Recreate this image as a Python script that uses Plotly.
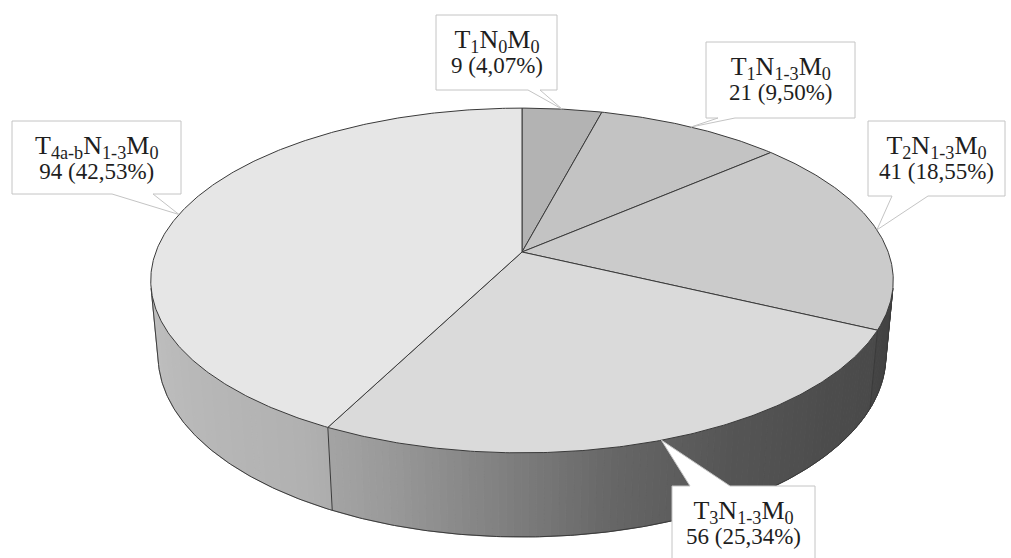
import numpy as np
import plotly.graph_objects as go

# Tumour stage groups, clockwise from 12 o'clock
stage_labels = [
    "T<sub>1</sub>N<sub>0</sub>M<sub>0</sub>",
    "T<sub>1</sub>N<sub>1-3</sub>M<sub>0</sub>",
    "T<sub>2</sub>N<sub>1-3</sub>M<sub>0</sub>",
    "T<sub>3</sub>N<sub>1-3</sub>M<sub>0</sub>",
    "T<sub>4a-b</sub>N<sub>1-3</sub>M<sub>0</sub>",
]
patient_counts = [9, 21, 41, 56, 94]

# grey level of each slice's top face
top_grey = [179, 195, 203, 218, 230]

# callout boxes (x0, y0, x1, y1) in page pixels, edge carrying the pointer, pointer base span
callout_boxes = [(436, 15, 557, 90), (706, 42, 855, 118), (868, 121, 1005, 196),
                 (672, 486, 815, 568), (12, 121, 181, 194)]
pointer_edge = ["bottom", "bottom", "bottom", "top", "bottom"]
pointer_base = [(528, 540), (718, 735), (892, 928), (690, 730), (112, 153)]

W, H = 1011, 558
LABEL_FONT = "Liberation Serif, Times New Roman, DejaVu Serif, serif"

# perspective camera looking down on a unit-radius disc
CX, CY = 522.0, 252.0
FOCAL = 1970.0
DIST = 5.38
TILT = np.radians(27.25)
THICK = 0.233

# side-wall lighting ramp (angle in degrees -> brightness factor)
shade_ang = [90, 110, 132, 151, 168, 183, 199, 211, 250, 270]
shade_fac = [0.32, 0.33, 0.35, 0.39, 0.47, 0.59, 0.71, 0.77, 0.82, 0.87]


def project(theta_deg, level):
    t = np.radians(np.asarray(theta_deg, dtype=float))
    lv = np.asarray(level, dtype=float)
    X = np.sin(t)
    Z = -np.cos(t)
    up = lv * np.cos(TILT) - Z * np.sin(TILT)
    depth = DIST - (lv * np.sin(TILT) + Z * np.cos(TILT))
    return CX + FOCAL * X / depth, CY - FOCAL * up / depth


def grey(v):
    v = int(round(max(0, min(255, v))))
    return f"rgb({v},{v},{v})"


total = sum(patient_counts)
bounds = np.concatenate([[0.0], 360.0 * np.cumsum(patient_counts) / total])

fig = go.Figure()

# visible part of the cylinder wall
vis_lim = np.degrees(np.arccos(-1.0 / (DIST * np.cos(TILT))))
vis0, vis1 = vis_lim, 360.0 - vis_lim

for i in range(len(patient_counts)):
    a0, a1 = max(bounds[i], vis0), min(bounds[i + 1], vis1)
    if a1 <= a0:
        continue
    n = max(1, int(np.ceil(a1 - a0)))
    steps = np.linspace(a0, a1, n + 1)
    for s0, s1 in zip(steps[:-1], steps[1:]):
        arc = np.linspace(s0, s1, 4)
        tx, ty = project(arc, 0.0)
        bx, by = project(arc[::-1], -THICK)
        col = grey(top_grey[i] * np.interp(0.5 * (s0 + s1), shade_ang, shade_fac))
        fig.add_trace(go.Scatter(
            x=np.concatenate([tx, bx, tx[:1]]), y=np.concatenate([ty, by, ty[:1]]),
            mode="lines", fill="toself", fillcolor=col,
            line=dict(color=col, width=1), hoverinfo="skip", showlegend=False))

# wall outlines: bottom rim and vertical seams
edge_col = "#3a3a3a"
rim = np.linspace(vis0, vis1, 300)
rx, ry = project(rim, -THICK)
fig.add_trace(go.Scatter(x=rx, y=ry, mode="lines", line=dict(color=edge_col, width=1),
                         hoverinfo="skip", showlegend=False))
seams = [vis0, vis1] + [b for b in bounds[1:-1] if vis0 < b < vis1]
for a in seams:
    sx, sy = project([a, a], [0.0, -THICK])
    fig.add_trace(go.Scatter(x=sx, y=sy, mode="lines", line=dict(color=edge_col, width=1),
                             hoverinfo="skip", showlegend=False))

# top faces
for i in range(len(patient_counts)):
    arc = np.linspace(bounds[i], bounds[i + 1], max(8, int(bounds[i + 1] - bounds[i]) * 2))
    ax, ay = project(arc, 0.0)
    xs = np.concatenate([[CX], ax, [CX]])
    ys = np.concatenate([[CY], ay, [CY]])
    fig.add_trace(go.Scatter(
        x=xs, y=ys, mode="lines", fill="toself", fillcolor=grey(top_grey[i]),
        line=dict(color=edge_col, width=1), hoverinfo="skip", showlegend=False))

# callouts
shapes = []
annotations = []
for i, cnt in enumerate(patient_counts):
    mid = 0.5 * (bounds[i] + bounds[i + 1])
    tipx, tipy = project(mid, 0.0)
    x0, y0, x1, y1 = callout_boxes[i]
    b0, b1 = pointer_base[i]
    if pointer_edge[i] == "bottom":
        pts = [(x0, y0), (x1, y0), (x1, y1), (b1, y1), (tipx, tipy), (b0, y1), (x0, y1)]
    else:
        pts = [(x0, y0), (b0, y0), (tipx, tipy), (b1, y0), (x1, y0), (x1, y1), (x0, y1)]
    path = "M " + " L ".join(f"{float(px):.1f},{float(py):.1f}" for px, py in pts) + " Z"
    shapes.append(dict(type="path", path=path, xref="x", yref="y",
                       fillcolor="white", line=dict(color="#c4c4c4", width=1), layer="above"))
    pct = f"{100.0 * cnt / total:.2f}".replace(".", ",")
    text = (f'<span style="font-size:26px">{stage_labels[i]}</span><br>'
            f'<span style="font-size:23px">{cnt} ({pct}%)</span>')
    annotations.append(dict(x=0.5 * (x0 + x1), y=y0 + 36, xref="x", yref="y", text=text,
                            showarrow=False, xanchor="center", yanchor="middle",
                            align="center",
                            font=dict(family=LABEL_FONT, size=19, color="#1e1e1e")))

fig.update_layout(
    width=W, height=H,
    margin=dict(l=0, r=0, t=0, b=0),
    paper_bgcolor="white", plot_bgcolor="white",
    xaxis=dict(range=[0, W], visible=False, fixedrange=True),
    yaxis=dict(range=[H, 0], visible=False, fixedrange=True),
    shapes=shapes, annotations=annotations, showlegend=False,
)

fig.write_html("out.html")
